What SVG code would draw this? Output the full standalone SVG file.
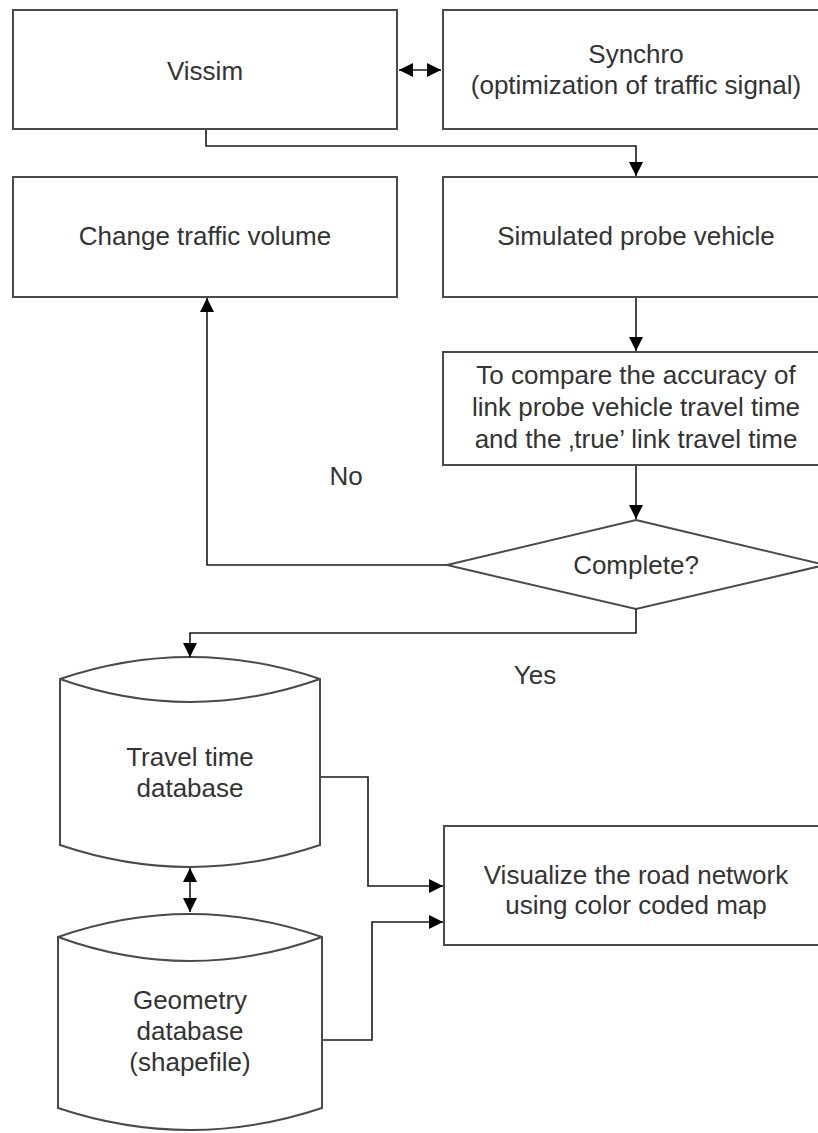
<svg xmlns="http://www.w3.org/2000/svg" width="818" height="1133" viewBox="0 0 818 1133">
<defs>
<style>
.box{fill:#fff;stroke:#4a4a4a;stroke-width:2}
.conn{fill:none;stroke:#1a1a1a;stroke-width:1.6}
text{font-family:"Liberation Sans",Arial,sans-serif;font-size:26px;fill:#333;text-anchor:middle}
</style>
<marker id="ah" viewBox="0 0 10 10" refX="10" refY="5" markerWidth="8" markerHeight="8" markerUnits="userSpaceOnUse" orient="auto-start-reverse">
<path d="M0,0 L10,5 L0,10 Z" fill="#000"/>
</marker>
<marker id="ahL" viewBox="0 0 10 10" refX="10" refY="5" markerWidth="14" markerHeight="14" markerUnits="userSpaceOnUse" orient="auto-start-reverse">
<path d="M0,0 L10,5 L0,10 Z" fill="#000"/>
</marker>
</defs>
<rect width="818" height="1133" fill="#fff"/>

<g id="vissim">
<rect class="box" x="13" y="10" width="384" height="119"/>
<text x="205" y="80">Vissim</text>
</g>
<g id="synchro">
<rect class="box" x="443" y="10" width="390" height="119"/>
<text x="636" y="63">Synchro</text>
<text x="636" y="94">(optimization of traffic signal)</text>
</g>
<g id="change-volume">
<rect class="box" x="13" y="177" width="384" height="120"/>
<text x="205" y="245">Change traffic volume</text>
</g>
<g id="probe">
<rect class="box" x="443" y="177" width="390" height="120"/>
<text x="636" y="245">Simulated probe vehicle</text>
</g>
<g id="compare">
<rect class="box" x="443" y="352" width="390" height="113"/>
<text x="636" y="384">To compare the accuracy of</text>
<text x="636" y="416">link probe vehicle travel time</text>
<text x="636" y="448">and the ‚true’ link travel time</text>
</g>
<g id="complete">
<polygon class="box" points="636,520 825,565 636,609 447,565"/>
<text x="636" y="574">Complete?</text>
</g>
<g id="travel-db">
<path class="box" d="M60,679 Q190,635 320,679 L320,845 Q190,889 60,845 Z"/>
<path class="box" fill="none" d="M60,679 Q190,725 320,679"/>
<text x="190" y="766">Travel time</text>
<text x="190" y="797">database</text>
</g>
<g id="geometry-db">
<path class="box" d="M58,937 Q190,891 322,937 L322,1108 Q190,1152 58,1108 Z"/>
<path class="box" fill="none" d="M58,937 Q190,985 322,937"/>
<text x="190" y="1009">Geometry</text>
<text x="190" y="1040">database</text>
<text x="190" y="1071">(shapefile)</text>
</g>
<g id="visualize">
<rect class="box" x="444" y="826" width="390" height="119"/>
<text x="636" y="884">Visualize the road network</text>
<text x="636" y="914">using color coded map</text>
</g>

<g id="connectors">
<path class="conn" d="M399,70 L441,70" marker-start="url(#ahL)" marker-end="url(#ahL)"/>
<path class="conn" d="M206,130 L206,146 L636,146 L636,176" marker-end="url(#ahL)"/>
<path class="conn" d="M636,298 L636,351" marker-end="url(#ahL)"/>
<path class="conn" d="M636,466 L636,519" marker-end="url(#ahL)"/>
<path class="conn" d="M447,565 L207,565 L207,298" marker-end="url(#ahL)"/>
<path class="conn" d="M636,609 L636,633 L190,633 L190,657" marker-end="url(#ahL)"/>
<path class="conn" d="M190,868 L190,912" marker-start="url(#ahL)" marker-end="url(#ahL)"/>
<path class="conn" d="M321,777 L368,777 L368,886 L443,886" marker-end="url(#ahL)"/>
<path class="conn" d="M323,1040 L372,1040 L372,922 L443,922" marker-end="url(#ahL)"/>
</g>
<g id="labels">
<text x="346" y="485">No</text>
<text x="535" y="684">Yes</text>
</g>
</svg>
